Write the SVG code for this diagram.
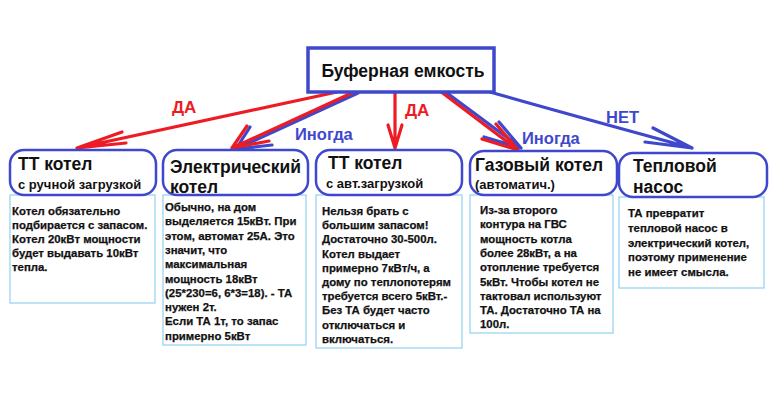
<svg xmlns="http://www.w3.org/2000/svg" width="777" height="409" viewBox="0 0 777 409">
<style>
  text { font-family: "Liberation Sans", Arial, sans-serif; font-weight: bold; }
  .body { font-size: 11.4px; fill: #111; stroke: #111; stroke-width: 0.25; }
  .big { font-size: 17.5px; fill: #111; }
  .sub { font-size: 13px; fill: #111; }
  .hdr { fill: #fff; stroke: #3f48cc; stroke-width: 2.5; }
  .cnt { fill: #fff; stroke: #8fd0f0; stroke-width: 1.2; }
  .red { stroke: #ed1c24; stroke-width: 3.2; fill: none; stroke-linecap: round; stroke-linejoin: round; }
  .blu { stroke: #3f48cc; stroke-width: 3.2; fill: none; stroke-linecap: round; stroke-linejoin: round; }
  .lr { font-size: 17px; fill: #ed1c24; }
  .lb { font-size: 16.5px; fill: #3f48cc; }
</style>
<rect width="777" height="409" fill="#fff"/>

<g id="connectors">
  <path class="red" d="M337,92 L77,148 M77,148 L122,132 M77,148 L126,143"/>
  <path class="blu" d="M358,93 L236,149 M236,149 L250,127 M236,149 L272,145"/>
  <path class="red" d="M354,92 L232,148 M232,148 L247,126 M232,148 L269,141"/>
  <path class="red" d="M395,92 L395,148 M395,148 L388,125 M395,148 L402,125"/>
  <path class="blu" d="M443,90 L521,148 M521,148 L499,122 M521,148 L484,137"/>
  <path class="red" d="M440,91 L518,150 M518,150 L496,124 M518,150 L482,139"/>
  <path class="blu" d="M490,92 Q560,112 692,148 M692,148 L653,128 M692,148 L645,142"/>
  <text class="lr" x="172" y="113">ДА</text>
  <text class="lb" x="295" y="140">Иногда</text>
  <text class="lr" x="405" y="116">ДА</text>
  <text class="lb" x="522" y="144">Иногда</text>
  <text class="lb" x="606" y="123">НЕТ</text>
</g>

<g id="buffer">
  <rect x="308" y="48" width="186" height="44" fill="#fff" stroke="#3f48cc" stroke-width="3.5"/>
  <text x="403" y="77" text-anchor="middle" style="font-size:17.5px" fill="#111">Буферная емкость</text>
</g>

<g id="tt-manual">
  <rect class="cnt" x="10" y="195" width="145" height="108"/>
  <rect class="hdr" x="10" y="150" width="146" height="45" rx="14"/>
  <text class="big" x="18" y="170">ТТ котел</text>
  <text class="sub" x="18" y="189">с ручной загрузкой</text>
  <text class="body" x="12" y="215">Котел обязательно</text>
  <text class="body" x="12" y="229">подбирается с запасом.</text>
  <text class="body" x="12" y="243">Котел 20кВт мощности</text>
  <text class="body" x="12" y="257">будет выдавать 10кВт</text>
  <text class="body" x="12" y="271">тепла.</text>
</g>

<g id="electric">
  <rect class="cnt" x="163" y="195" width="143" height="150"/>
  <rect class="hdr" x="163" y="150" width="145" height="45" rx="14"/>
  <text class="big" x="170" y="173">Электрический</text>
  <text class="big" x="170" y="193">котел</text>
  <text class="body" x="165" y="211">Обычно, на дом</text>
  <text class="body" x="165" y="225.3">выделяется 15кВт. При</text>
  <text class="body" x="165" y="239.6">этом, автомат 25А. Это</text>
  <text class="body" x="165" y="253.9">значит, что</text>
  <text class="body" x="165" y="268.2">максимальная</text>
  <text class="body" x="165" y="282.5">мощность 18кВт</text>
  <text class="body" x="165" y="296.8">(25*230=6, 6*3=18). - ТА</text>
  <text class="body" x="165" y="311.1">нужен 2т.</text>
  <text class="body" x="165" y="325.4">Если ТА 1т, то запас</text>
  <text class="body" x="165" y="339.7">примерно 5кВт</text>
</g>

<g id="tt-auto">
  <rect class="cnt" x="316" y="195" width="146" height="153"/>
  <rect class="hdr" x="316" y="150" width="146" height="45" rx="14"/>
  <text class="big" x="328" y="169">ТТ котел</text>
  <text class="sub" x="326" y="188">с авт.загрузкой</text>
  <text class="body" x="322" y="215">Нельзя брать с</text>
  <text class="body" x="322" y="229.2">большим запасом!</text>
  <text class="body" x="322" y="243.4">Достаточно 30-500л.</text>
  <text class="body" x="322" y="257.6">Котел выдает</text>
  <text class="body" x="322" y="271.8">примерно 7кВт/ч, а</text>
  <text class="body" x="322" y="286">дому по теплопотерям</text>
  <text class="body" x="322" y="300.2">требуется всего 5кВт.-</text>
  <text class="body" x="322" y="314.4">Без ТА будет часто</text>
  <text class="body" x="322" y="328.6">отключаться и</text>
  <text class="body" x="322" y="342.8">включаться.</text>
</g>

<g id="gas">
  <rect class="cnt" x="470" y="195" width="143" height="138"/>
  <rect class="hdr" x="470" y="151" width="147" height="44" rx="14"/>
  <text class="big" x="475" y="171">Газовый котел</text>
  <text class="sub" x="475" y="189">(автоматич.)</text>
  <text class="body" x="480" y="214">Из-за второго</text>
  <text class="body" x="480" y="228.3">контура на ГВС</text>
  <text class="body" x="480" y="242.6">мощность котла</text>
  <text class="body" x="480" y="256.9">более 28кВт, а на</text>
  <text class="body" x="480" y="271.2">отопление требуется</text>
  <text class="body" x="480" y="285.5">5кВт. Чтобы котел не</text>
  <text class="body" x="480" y="299.8">тактовал используют</text>
  <text class="body" x="480" y="314.1">ТА. Достаточно ТА на</text>
  <text class="body" x="480" y="328.4">100л.</text>
</g>

<g id="heatpump">
  <rect class="cnt" x="619" y="197" width="145" height="91"/>
  <rect class="hdr" x="619" y="153" width="148" height="44" rx="14"/>
  <text class="big" x="633" y="172">Тепловой</text>
  <text class="big" x="633" y="193">насос</text>
  <text class="body" x="628" y="217">ТА превратит</text>
  <text class="body" x="628" y="231.8">тепловой насос в</text>
  <text class="body" x="628" y="246.6">электрический котел,</text>
  <text class="body" x="628" y="261.4">поэтому применение</text>
  <text class="body" x="628" y="276.2">не имеет смысла.</text>
</g>
</svg>
